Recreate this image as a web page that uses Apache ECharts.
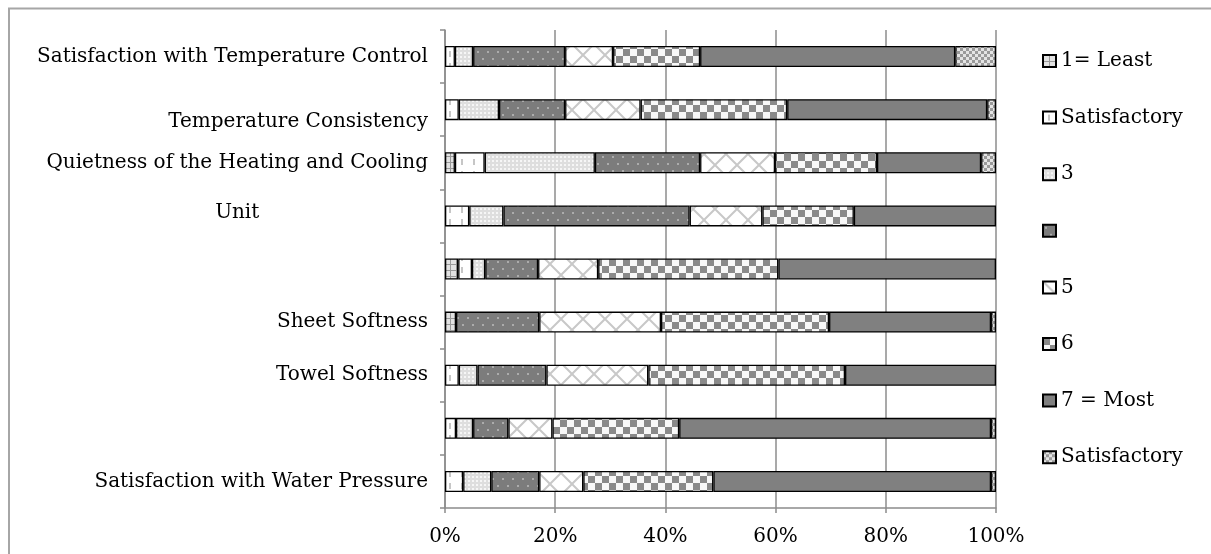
<!DOCTYPE html>
<html><head><meta charset="utf-8">
<script src="https://cdn.jsdelivr.net/npm/echarts@6/dist/echarts.min.js"></script>
<style>html,body{margin:0;padding:0;background:#fff}#c{width:1211px;height:554px}</style>
</head><body><div id="c"></div>
<script>
// ---- data ----
const rowKeys = ['r1','r2','r3','r4','r5','r6','r7','r8','r9'];
const rowLabels = [
  'Satisfaction with Temperature Control',
  'Temperature Consistency',
  'Quietness of the Heating and Cooling|Unit',
  '',
  '',
  'Sheet Softness',
  'Towel Softness',
  '',
  'Satisfaction with Water Pressure'
];
const seriesKeys = ['1','2','3','4','5','6','7','8'];
const legendLabels = ['1= Least','Satisfactory','3',' ','5','6','7 = Most','Satisfactory'];
const xTickValues = [0,20,40,60,80,100];
const s1 = [0, 0, 1.8, 0, 2.4, 2.0, 0, 0, 0];
const s2 = [1.8, 2.5, 5.4, 4.4, 2.5, 0, 2.5, 2.0, 3.3];
const s3 = [3.3, 7.3, 20.0, 6.2, 2.4, 0, 3.4, 3.1, 5.1];
const s4 = [16.7, 12.0, 19.1, 33.8, 9.6, 15.1, 12.5, 6.4, 8.7];
const s5 = [8.7, 13.7, 13.6, 13.2, 10.9, 22.1, 18.5, 8.0, 8.0];
const s6 = [15.8, 26.6, 18.5, 16.6, 32.7, 30.5, 35.7, 23.0, 23.6];
const s7 = [46.3, 36.3, 18.9, 25.8, 39.5, 29.4, 27.4, 56.6, 50.4];
const s8 = [7.4, 1.6, 2.7, 0, 0, 0.9, 0, 0.9, 0.9];
const seriesValues = [s1, s2, s3, s4, s5, s6, s7, s8];

// ---- patterns ----
function tile(w, h, bg, draw) {
  const c = document.createElement('canvas');
  c.width = w; c.height = h;
  const g = c.getContext('2d');
  g.fillStyle = bg; g.fillRect(0, 0, w, h);
  if (draw) draw(g);
  return { image: c, repeat: 'repeat' };
}
const fills = [
  tile(6, 6, '#e2e2e2', g => { g.fillStyle = '#9a9a9a'; g.fillRect(0, 0, 6, 1); g.fillRect(0, 0, 1, 6); }),
  tile(12, 12, '#ffffff', g => { g.fillStyle = '#c6c6c6'; g.fillRect(5, 3, 2, 6); }),
  tile(4, 4, '#dedede', g => { g.fillStyle = '#f6f6f6'; g.fillRect(0, 0, 2, 2); }),
  tile(10, 14, '#7c7c7c', g => { g.fillStyle = '#acacac'; g.fillRect(2, 2, 2, 2); g.fillRect(7, 9, 2, 2); }),
  tile(22, 22, '#ffffff', g => { g.strokeStyle = '#c8c8c8'; g.lineWidth = 2; g.beginPath(); g.moveTo(0, 0); g.lineTo(22, 22); g.moveTo(22, 0); g.lineTo(0, 22); g.stroke(); }),
  tile(14, 14, '#f8f8f8', g => { g.fillStyle = '#8a8a8a'; g.fillRect(0, 0, 7, 7); g.fillRect(7, 7, 7, 7); }),
  '#808080',
  tile(6, 6, '#e4e4e4', g => { g.fillStyle = '#9a9a9a'; g.fillRect(0, 0, 3, 3); g.fillRect(3, 3, 3, 3); })
];

const FONT = 'DejaVu Serif';
const FS = 20;
const rich = {
  n: { fontFamily: FONT, fontSize: FS, color: '#000' },
  d: { fontFamily: FONT, fontSize: FS, color: '#000', padding: [24, 0, 0, 0] },
  e: { fontFamily: FONT, fontSize: FS, color: '#000', lineHeight: 50 },
  a: { fontFamily: FONT, fontSize: FS, color: '#000', lineHeight: 50 },
  u: { fontFamily: FONT, fontSize: FS, color: '#000', lineHeight: 50, align: 'center' }
};
function rowLabel(v, i) {
  const t = rowLabels[i];
  if (!t) return '';
  if (i === 1) return '{d|' + t + '}';
  if (t.indexOf('|') >= 0) {
    const parts = t.split('|');
    return '{e| }\n{a|' + parts[0] + '}\n{u|' + parts[1] + '}';
  }
  return '{n|' + t + '}';
}

const chart = echarts.init(document.getElementById('c'));
chart.setOption({
  backgroundColor: '#ffffff',
  animation: false,
  grid: { left: 445, right: 215, top: 30, bottom: 46, containLabel: false },
  xAxis: {
    type: 'value', min: xTickValues[0], max: xTickValues[xTickValues.length - 1], interval: 20,
    axisLine: { show: true, lineStyle: { color: '#8c8c8c', width: 1.5 } },
    axisTick: { show: true, length: 5, lineStyle: { color: '#8c8c8c', width: 1.5 } },
    splitLine: { show: true, lineStyle: { color: '#8c8c8c', width: 1.5 } },
    axisLabel: { formatter: '{value}%', fontFamily: FONT, fontSize: FS, color: '#000', margin: 19 }
  },
  yAxis: {
    type: 'category', inverse: true, data: rowKeys,
    axisLine: { show: true, lineStyle: { color: '#8c8c8c', width: 1.5 } },
    axisTick: { show: true, length: 5, alignWithLabel: false, lineStyle: { color: '#8c8c8c', width: 1.5 } },
    splitLine: { show: false },
    axisLabel: { interval: 0, margin: 17, formatter: rowLabel, rich: rich, fontFamily: FONT, fontSize: FS, color: '#000' }
  },
  legend: {
    orient: 'vertical', left: 1042, top: 51, padding: 0, itemWidth: 13, itemHeight: 12, itemGap: 36.6,
    icon: 'rect', data: seriesKeys,
    formatter: name => legendLabels[seriesKeys.indexOf(name)],
    textStyle: { fontFamily: FONT, fontSize: FS, color: '#000' }
  },
  graphic: [{
    type: 'rect', silent: true,
    shape: { x: 9, y: 8.5, width: 1240, height: 600 },
    style: { fill: 'none', stroke: '#a6a6a6', lineWidth: 2 }
  }],
  series: seriesKeys.map((k, i) => ({
    name: k, type: 'bar', stack: 'total', barWidth: 21,
    data: seriesValues[i].map(v => (v === 0 ? '-' : v)),
    itemStyle: { color: fills[i], borderColor: '#000', borderWidth: 1.3 }
  }))
});
</script>
</body></html>
